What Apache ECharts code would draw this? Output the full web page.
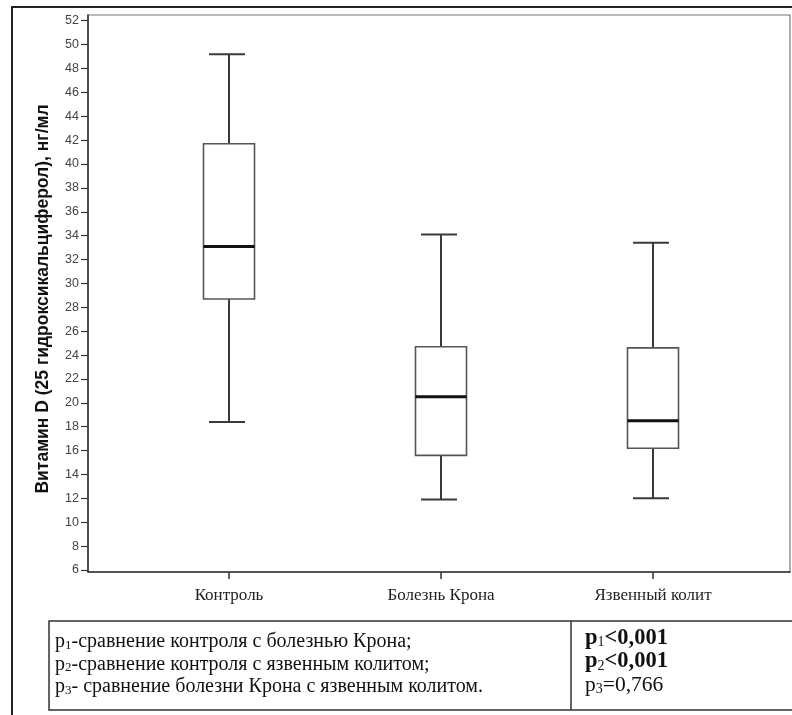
<!DOCTYPE html>
<html>
<head>
<meta charset="utf-8">
<script src="https://cdn.jsdelivr.net/npm/echarts@6/dist/echarts.min.js"></script>
<style>
html,body{margin:0;padding:0;background:#fff;}
#chart{width:792px;height:715px;}
</style>
</head>
<body>
<div id="chart"></div>
<script>
// ---- data ----
const categories = ['Контроль', 'Болезнь Крона', 'Язвенный колит'];
const whiskerLow  = [18.4, 11.9, 12.0];
const q1Values    = [28.7, 15.6, 16.2];
const medians     = [33.1, 20.5, 18.5];
const q3Values    = [41.7, 24.7, 24.6];
const whiskerHigh = [49.2, 34.1, 33.4];
const yTicks = [6,8,10,12,14,16,18,20,22,24,26,28,30,32,34,36,38,40,42,44,46,48,50,52];
const yTitle = 'Витамин D (25 гидроксикальциферол), нг/мл';
const comparisons = [
  ['1', '-сравнение контроля с болезнью Крона;'],
  ['2', '-сравнение контроля с язвенным колитом;'],
  ['3', '- сравнение болезни Крона с язвенным колитом.']
];
const pValues = [
  ['1', '<0,001', true],
  ['2', '<0,001', true],
  ['3', '=0,766', false]
];

const Y_MIN = 5.83, Y_MAX = 52.48;
const BOX_W = 51, CAP_W = 36;

const chart = echarts.init(document.getElementById('chart'), null, {renderer: 'canvas'});

const boxData = categories.map((c, i) => [i, whiskerLow[i], q1Values[i], medians[i], q3Values[i], whiskerHigh[i]]);

function renderBox(params, api) {
  const idx = api.value(0);
  const x = api.coord([idx, medians[0]])[0];
  const yL = api.coord([idx, api.value(1)])[1];
  const yQ1 = api.coord([idx, api.value(2)])[1];
  const yM = api.coord([idx, api.value(3)])[1];
  const yQ3 = api.coord([idx, api.value(4)])[1];
  const yH = api.coord([idx, api.value(5)])[1];
  const wStyle = {stroke: '#3a3a3a', lineWidth: 2};
  return {
    type: 'group',
    children: [
      {type: 'line', shape: {x1: x, y1: yQ3, x2: x, y2: yH}, style: wStyle},
      {type: 'line', shape: {x1: x - CAP_W/2 - 2, y1: yH, x2: x + CAP_W/2 - 2, y2: yH}, style: wStyle},
      {type: 'line', shape: {x1: x, y1: yQ1, x2: x, y2: yL}, style: wStyle},
      {type: 'line', shape: {x1: x - CAP_W/2 - 2, y1: yL, x2: x + CAP_W/2 - 2, y2: yL}, style: wStyle},
      {type: 'rect', shape: {x: x - BOX_W/2, y: yQ3, width: BOX_W, height: yQ1 - yQ3},
        style: {fill: '#ffffff', stroke: '#555555', lineWidth: 1.6}},
      {type: 'line', shape: {x1: x - BOX_W/2, y1: yM, x2: x + BOX_W/2, y2: yM},
        style: {stroke: '#111111', lineWidth: 3}}
    ]
  };
}

const serif = '"Liberation Serif", "Times New Roman", serif';
const sans = '"Liberation Sans", Arial, sans-serif';

const tableGraphics = [];
// outer frame
tableGraphics.push({type: 'polyline', silent: true, shape: {points: [[12, 715], [12, 7], [800, 7]]},
  style: {stroke: '#222', lineWidth: 2, fill: null}});
// table box
tableGraphics.push({type: 'rect', silent: true, shape: {x: 49, y: 621, width: 760, height: 89},
  style: {fill: null, stroke: '#333', lineWidth: 1.5}});
tableGraphics.push({type: 'line', silent: true, shape: {x1: 571, y1: 621, x2: 571, y2: 710},
  style: {stroke: '#333', lineWidth: 1.5}});
comparisons.forEach((c, i) => {
  tableGraphics.push({type: 'text', silent: true, x: 55, y: 642 + i * 22.5,
    style: {text: '{p|p}{s|' + c[0] + '}{t|' + c[1] + '}', textVerticalAlign: 'middle',
      rich: {
        p: {fontFamily: serif, fontSize: 20, fill: '#111'},
        s: {fontFamily: serif, fontSize: 13, fill: '#111', verticalAlign: 'bottom'},
        t: {fontFamily: serif, fontSize: 20, fill: '#111'}
      }}});
});
pValues.forEach((p, i) => {
  const w = p[2] ? 'bold' : 'normal';
  const fs = p[2] ? 22.5 : 21.5;
  tableGraphics.push({type: 'text', silent: true, x: 585, y: 638 + i * 23.5,
    style: {text: '{p|p}{s|' + p[0] + '}{t|' + p[1] + '}', textVerticalAlign: 'middle',
      rich: {
        p: {fontFamily: serif, fontSize: fs, fontWeight: w, fill: '#111'},
        s: {fontFamily: serif, fontSize: 14, fill: '#111', verticalAlign: 'bottom'},
        t: {fontFamily: serif, fontSize: fs, fontWeight: w, fill: '#111'}
      }}});
});
// y-axis title
tableGraphics.push({type: 'text', silent: true, x: 43, y: 299, rotation: Math.PI / 2,
  style: {text: yTitle, fontFamily: sans, fontSize: 17.5, fontWeight: 'bold', fill: '#111',
    textAlign: 'center', textVerticalAlign: 'middle'}});

const option = {
  backgroundColor: '#ffffff',
  animation: false,
  grid: [
    {left: 88, right: 2, top: 15, bottom: 143, show: true, borderColor: '#777', borderWidth: 1.2, backgroundColor: '#fff'},
    {left: 123, width: 636, top: 15, bottom: 143}
  ],
  xAxis: [
    {gridIndex: 0, type: 'value', min: 0, max: 1, show: true,
      axisLine: {show: true, onZero: false, lineStyle: {color: '#333', width: 1.5}},
      axisTick: {show: false}, axisLabel: {show: false}, splitLine: {show: false}},
    {gridIndex: 1, type: 'category', data: categories, boundaryGap: true,
      axisLine: {show: false},
      axisTick: {show: true, alignWithLabel: true, length: 7, lineStyle: {color: '#333', width: 1.5}},
      axisLabel: {show: true, interval: 0, margin: 15, fontFamily: serif, fontSize: 17, color: '#222'},
      splitLine: {show: false}}
  ],
  yAxis: [
    {gridIndex: 0, type: 'value', min: Y_MIN, max: Y_MAX,
      axisLine: {show: true, lineStyle: {color: '#333', width: 1.5}},
      axisTick: {show: true, length: 7, customValues: yTicks, lineStyle: {color: '#333', width: 1.2}},
      axisLabel: {show: true, customValues: yTicks, margin: 9, fontFamily: sans, fontSize: 12.5, color: '#444'},
      splitLine: {show: false}},
    {gridIndex: 1, type: 'value', min: Y_MIN, max: Y_MAX, show: false, splitLine: {show: false}}
  ],
  series: [{
    type: 'custom',
    xAxisIndex: 1, yAxisIndex: 1,
    renderItem: renderBox,
    encode: {x: 0, y: [1, 2, 3, 4, 5]},
    data: boxData,
    silent: true
  }],
  graphic: tableGraphics
};
chart.setOption(option);
</script>
</body>
</html>
